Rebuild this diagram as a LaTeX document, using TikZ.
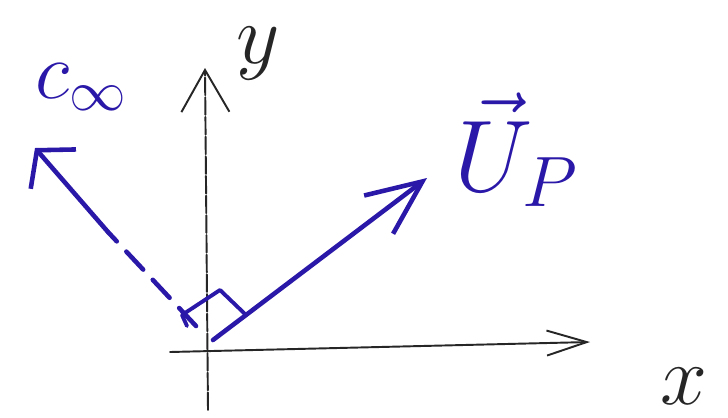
\documentclass[tikz,border=0pt]{standalone}
\usepackage{fix-cm}
\usetikzlibrary{arrows.meta}
\definecolor{pen}{RGB}{42,24,168}
\begin{document}
\begin{tikzpicture}[x=0.02cm,y=-0.02cm,
  axis/.style={black!85,line width=1.1pt,line cap=round},
  penline/.style={pen,line width=2.6pt,line cap=round,line join=round},
  pentext/.style={pen,inner sep=0pt},
  inktext/.style={black!85,inner sep=0pt}]
\useasboundingbox[fill=white] (0,0) rectangle (728,417);
% coordinates
\coordinate (xs) at (170,352);
\coordinate (xe) at (590,342);
\coordinate (ys) at (208,410);
\coordinate (ye) at (205,68);
\coordinate (us) at (213,340);
\coordinate (ue) at (427,178);
\coordinate (cs) at (196,326);
\coordinate (cm) at (108,232);
\coordinate (ce) at (35,148);
\coordinate (ra1) at (245,314);
\coordinate (ra2) at (220,290);
\coordinate (ra3) at (182,315);
\coordinate (ra4) at (187,326);
% axes
\draw[axis,-{Straight Barb[length=0.8cm,width=0.5cm]}] (xs) -- (xe);
\draw[axis,dash pattern=on 10pt off 1.2pt,-{Straight Barb[length=0.84cm,width=0.96cm]}] (ys) -- (ye);
% U_P vector
\draw[penline,-{Straight Barb[length=1.1cm,width=0.96cm]}] (us) -- (ue);
% c_infty direction
\draw[penline,dash pattern=on 14pt off 8pt] (cs) -- (cm);
\draw[penline,-{Straight Barb[length=0.5cm,width=1.2cm]}] (cm) -- (ce);
% right angle mark
\draw[penline,line width=2.2pt] (ra1) -- (ra2) -- (ra3) -- (ra4);
% labels
\node[inktext,font=\fontsize{48}{52}\selectfont] (ylab) at (258,54) {$y$};
\node[inktext,font=\fontsize{48}{52}\selectfont] (xlab) at (684,386) {$x$};
\node[pentext,font=\fontsize{46}{50}\selectfont] (clab) at (81,87) {$c_\infty$};
\node[pentext,font=\fontsize{58}{62}\selectfont] (ulab) at (516,150) {$\vec{U}_P$};
\end{tikzpicture}
\end{document}
